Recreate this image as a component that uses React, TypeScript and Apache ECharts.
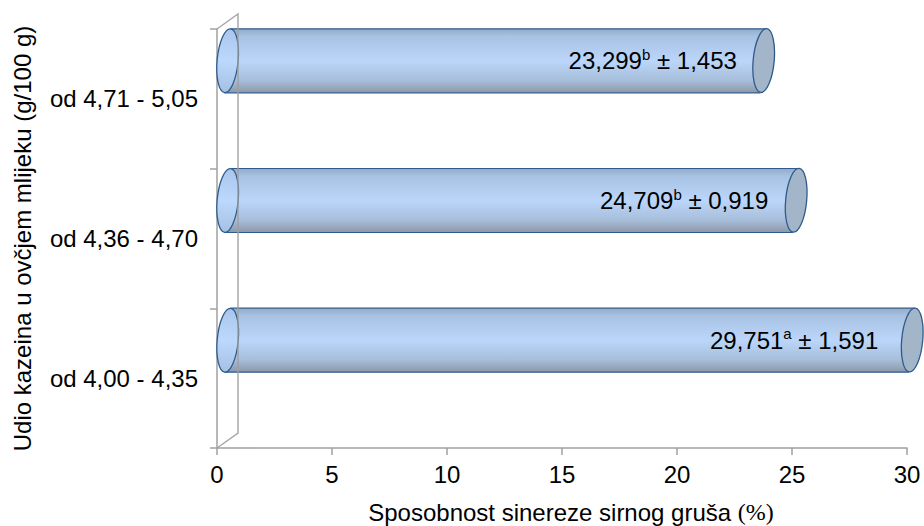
import React, { useEffect, useRef } from "react";
import * as echarts from "echarts";

const categories = ["od 4,00 - 4,35", "od 4,36 - 4,70", "od 4,71 - 5,05"];
const means = [29.751, 24.709, 23.299];
const meanLabels = ["29,751", "24,709", "23,299"];
const letters = ["a", "b", "b"];
const deviations = ["1,591", "0,919", "1,453"];
const xTicks = [0, 5, 10, 15, 20, 25, 30];

const FONT = '"Liberation Sans", Arial, sans-serif';
const AXIS = "#a0a0a0";
const EDGE = "#2f5b8c";
const labelShift = [23, 17, 16];

function renderCylinder(params: any, api: any) {
  const i = params.dataIndex;
  const value = api.value(0);
  const base = api.coord([0, i]);
  const end = api.coord([value, i]);
  const cy = base[1] - 38;
  const ry = 32;
  const rx = 10.5;
  const lean = 3;
  const x0 = base[0] + rx;
  const x1 = end[0] + rx;
  const rotation = -Math.atan2(lean, ry);
  return {
    type: "group",
    children: [
      {
        type: "polygon",
        shape: {
          points: [
            [x0 + lean, cy - ry],
            [x1 + lean, cy - ry],
            [x1 - lean, cy + ry],
            [x0 - lean, cy + ry],
          ],
        },
        style: {
          fill: {
            type: "linear",
            x: 0,
            y: 0,
            x2: 0,
            y2: 1,
            colorStops: [
              { offset: 0, color: "#94abc8" },
              { offset: 0.12, color: "#a8c2e3" },
              { offset: 0.5, color: "#bbd6fa" },
              { offset: 0.8, color: "#a8bfdb" },
              { offset: 1, color: "#8c98a8" },
            ],
          },
          stroke: null,
        },
      },
      { type: "line", shape: { x1: x0 + lean, y1: cy - ry, x2: x1 + lean, y2: cy - ry }, style: { stroke: EDGE, lineWidth: 1.2 } },
      { type: "line", shape: { x1: x0 - lean, y1: cy + ry, x2: x1 - lean, y2: cy + ry }, style: { stroke: EDGE, lineWidth: 1.2 } },
      {
        type: "ellipse",
        originX: x1,
        originY: cy,
        rotation,
        shape: { cx: x1, cy, rx, ry },
        style: { fill: "#a3b5c9", stroke: EDGE, lineWidth: 1.3 },
      },
      {
        type: "ellipse",
        originX: x0,
        originY: cy,
        rotation,
        shape: { cx: x0, cy, rx, ry },
        style: {
          fill: {
            type: "linear",
            x: 0,
            y: 0,
            x2: 0,
            y2: 1,
            colorStops: [
              { offset: 0, color: "#a9c6ea" },
              { offset: 0.5, color: "#bcd8fc" },
              { offset: 1, color: "#a5c0e2" },
            ],
          },
          stroke: EDGE,
          lineWidth: 1.3,
        },
      },
      {
        type: "text",
        x: end[0] - labelShift[i],
        y: cy,
        style: {
          text: `{v|${meanLabels[i]}}{s|${letters[i]}}{v| ± ${deviations[i]}}`,
          align: "right",
          verticalAlign: "middle",
          rich: {
            v: { fontFamily: FONT, fontSize: 24, fill: "#000", lineHeight: 28 },
            s: { fontFamily: FONT, fontSize: 15, fill: "#000", verticalAlign: "top", lineHeight: 28, padding: [0, 0, 8, 0] },
          },
        },
      },
    ],
  };
}

function buildOption() {
  return {
    animation: false,
    backgroundColor: "#fff",
    grid: { left: 217, right: 17, top: 29, bottom: 78, outerBoundsMode: "none" },
    xAxis: {
      type: "value",
      min: xTicks[0],
      max: xTicks[xTicks.length - 1],
      interval: xTicks[1] - xTicks[0],
      splitLine: { show: false },
      axisLine: { show: true, lineStyle: { color: AXIS, width: 1.5 } },
      axisTick: { show: true, length: 7, lineStyle: { color: AXIS, width: 1.5 } },
      axisLabel: { fontFamily: FONT, fontSize: 24, color: "#000", margin: 14, hideOverlap: false },
      name: "{t|Sposobnost sinereze sirnog gruša }{p|(%)}",
      nameLocation: "middle",
      nameGap: 52,
      nameTextStyle: {
        padding: [0, 0, 0, 18],
        rich: {
          t: { fontFamily: FONT, fontSize: 24, color: "#000" },
          p: { fontFamily: '"Liberation Serif", serif', fontSize: 24, color: "#000" },
        },
      },
    },
    yAxis: {
      type: "category",
      data: categories,
      axisLine: { show: true, lineStyle: { color: AXIS, width: 1.5 } },
      axisTick: { show: true, length: 7, lineStyle: { color: AXIS, width: 1.5 } },
      axisLabel: { fontFamily: FONT, fontSize: 24, color: "#000", margin: 19 },
      name: "Udio kazeina u ovčjem mlijeku (g/100 g)",
      nameLocation: "middle",
      nameGap: 183,
      nameTextStyle: { fontFamily: FONT, fontSize: 24, color: "#000" },
    },
    series: [
      {
        type: "custom",
        coordinateSystem: "cartesian2d",
        encode: { x: 0, y: 1 },
        clip: false,
        data: means.map((m, i) => [m, i]),
        renderItem: renderCylinder,
        z: 2,
      },
    ],
    graphic: [
      {
        type: "polyline",
        z: 10,
        silent: true,
        shape: { points: [[217, 448], [238, 433], [238, 14], [217, 29]] },
        style: { fill: "none", stroke: AXIS, lineWidth: 1.5, opacity: 0.9 },
      },
    ],
  };
}

export default function App() {
  const ref = useRef<HTMLDivElement>(null);
  useEffect(() => {
    document.body.style.margin = "0";
    const chart = echarts.init(ref.current!, null, { renderer: "svg" });
    chart.setOption(buildOption() as any);
    return () => chart.dispose();
  }, []);
  return <div ref={ref} style={{ width: 924, height: 526, background: "#fff" }} />;
}
